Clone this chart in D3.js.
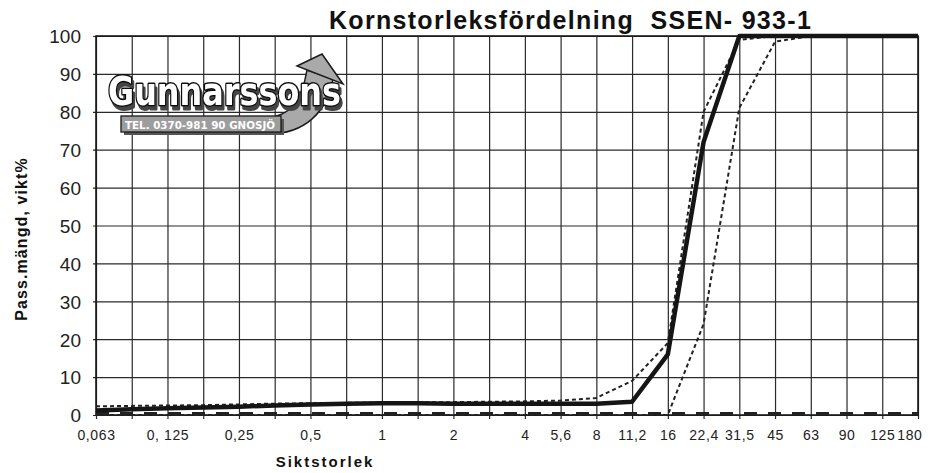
<!DOCTYPE html>
<html>
<head>
<meta charset="utf-8">
<script src="https://cdn.jsdelivr.net/npm/d3@7"></script>
<style>
  html, body { margin: 0; padding: 0; background: #fff; }
  svg { display: block; font-family: Arial, "Liberation Sans", sans-serif; }
</style>
</head>
<body>
<svg id="chart" width="932" height="473"></svg>
<script>
// ---- data ----
const xLabels = ["0,063","","0, 125","","0,25","","0,5","","1","","2","","4","5,6","8","11,2","16","22,4","31,5","45","63","90","125","180"];
const yTicks = [0,10,20,30,40,50,60,70,80,90,100];
const sample     = [1.2,1.5,1.8,2.0,2.2,2.5,2.8,3.0,3.1,3.1,3.0,3.0,3.0,3.0,3.0,3.5,16,72,100,100,100,100,100,100];
const upperLimit = [2.3,2.4,2.5,2.6,2.8,3.0,3.1,3.2,3.3,3.3,3.4,3.5,3.6,3.8,4.5,9,19,80,99,100,100,100,100,100];
const lowerLimit = [0,0,0,0,0,0,0,0,0,0,0,0,0,0,0,0,0,24,81,98.5,100,100,100,100];
const baseLine   = [0.4,0.4,0.4,0.4,0.4,0.4,0.4,0.4,0.4,0.4,0.4,0.4,0.4,0.4,0.4,0.4,0.4,0.4,0.4,0.4,0.4,0.4,0.4,0.4];
const title = "Kornstorleksfördelning  SSEN- 933-1";
const yTitle = "Pass.mängd, vikt%";
const xTitle = "Siktstorlek";

// ---- layout ----
const svg = d3.select("#chart");
const m = {left: 96, right: 918, top: 36, bottom: 415};
const x = d3.scalePoint().domain(d3.range(xLabels.length)).range([m.left, m.right]);
const y = d3.scaleLinear().domain([0, 100]).range([m.bottom, m.top]);
const gridColor = "#2a2a2a";

const defs = svg.append("defs");
const f = defs.append("filter").attr("id", "shadow").attr("x", "-10%").attr("y", "-20%").attr("width", "130%").attr("height", "160%");
f.append("feOffset").attr("in", "SourceAlpha").attr("dx", 2).attr("dy", 2.5).attr("result", "off");
f.append("feFlood").attr("flood-color", "#444").attr("result", "col");
f.append("feComposite").attr("in", "col").attr("in2", "off").attr("operator", "in").attr("result", "sh");
const fm = f.append("feMerge");
fm.append("feMergeNode").attr("in", "sh");
fm.append("feMergeNode").attr("in", "SourceGraphic");

// ---- grid ----
const xAxis = d3.axisBottom(x).tickFormat(i => xLabels[i]).tickSizeInner(-(m.bottom - m.top)).tickSizeOuter(0).tickPadding(0);
const gx = svg.append("g").attr("transform", `translate(0,${m.bottom})`).call(xAxis);
gx.select(".domain").remove();
gx.selectAll(".tick line").attr("y1", 4).attr("stroke", gridColor).attr("stroke-width", 1.2);
gx.selectAll(".tick text")
  .attr("y", 25).attr("dy", 0)
  .attr("font-size", 14).attr("fill", "#222")
  .style("letter-spacing", "0.6px")
  .attr("font-family", "Arial, 'Liberation Sans', sans-serif");
gx.selectAll(".tick text").filter(i => i === xLabels.length - 1).attr("text-anchor", "end").attr("dx", 4);

const yAxis = d3.axisLeft(y).tickValues(yTicks).tickSizeInner(-(m.right - m.left)).tickSizeOuter(0).tickPadding(0);
const gy = svg.append("g").attr("transform", `translate(${m.left},0)`).call(yAxis);
gy.select(".domain").remove();
gy.selectAll(".tick line").attr("x1", -3).attr("stroke", gridColor).attr("stroke-width", 1.2);
gy.selectAll(".tick text")
  .attr("x", -15).attr("dy", "0.36em")
  .attr("font-size", 19).attr("fill", "#222")
  .attr("font-family", "Arial, 'Liberation Sans', sans-serif");

// frame
svg.append("rect")
  .attr("x", m.left).attr("y", m.top)
  .attr("width", m.right - m.left).attr("height", m.bottom - m.top)
  .attr("fill", "none").attr("stroke", "#1a1a1a").attr("stroke-width", 1.6);

// ---- logo ----
const logo = svg.append("g").attr("class", "logo");
logo.append("path")
  .attr("d", "M268,117 C290,117 302,100 307,70 L333,79 C327,112 305,134 268,134 Z")
  .attr("fill", "#a9a9a9").attr("stroke", "#1a1a1a").attr("stroke-width", 1.5);
logo.append("path")
  .attr("d", "M297,66 L322,54 L343,84 Z")
  .attr("fill", "#a9a9a9").attr("stroke", "#1a1a1a").attr("stroke-width", 1.5);
logo.append("rect").attr("x", 124).attr("y", 119).attr("width", 160).attr("height", 16).attr("fill", "#555");
logo.append("rect").attr("x", 121).attr("y", 116).attr("width", 160).attr("height", 16)
  .attr("fill", "#9d9d9d").attr("stroke", "#1a1a1a").attr("stroke-width", 1.3);
logo.append("text").attr("x", 125).attr("y", 128.5)
  .attr("font-size", 11).attr("font-weight", "bold").attr("fill", "#fff")
  .attr("font-family", "'DejaVu Sans', sans-serif")
  .attr("textLength", 150).attr("lengthAdjust", "spacingAndGlyphs")
  .text("TEL. 0370-981 90 GNOSJÖ");

const brand = logo.append("g").attr("transform", "translate(108,105) scale(1,1.4)");
brand.append("text").attr("x", 0).attr("y", 0)
  .attr("font-size", 28).attr("font-weight", "bold")
  .attr("font-family", "'DejaVu Sans', sans-serif")
  .attr("textLength", 233).attr("lengthAdjust", "spacingAndGlyphs")
  .attr("fill", "#fff").attr("stroke", "#111").attr("stroke-width", 2.2)
  .attr("stroke-linejoin", "round")
  .attr("filter", "url(#shadow)")
  .style("paint-order", "stroke")
  .text("Gunnarssons");

// ---- lines ----
const line = d3.line().x((d, i) => x(i)).y(d => y(d));
svg.append("path").datum(baseLine).attr("d", line)
  .attr("fill", "none").attr("stroke", "#222").attr("stroke-width", 3)
  .attr("stroke-dasharray", "13,11");
svg.append("path").datum(lowerLimit).attr("d", line)
  .attr("fill", "none").attr("stroke", "#222").attr("stroke-width", 2)
  .attr("stroke-dasharray", "4,3");
svg.append("path").datum(upperLimit).attr("d", line)
  .attr("fill", "none").attr("stroke", "#222").attr("stroke-width", 2)
  .attr("stroke-dasharray", "4,3");
svg.append("path").datum(sample).attr("d", line)
  .attr("fill", "none").attr("stroke", "#151515").attr("stroke-width", 4.5)
  .attr("stroke-linejoin", "round");

// ---- titles ----
svg.append("text").attr("x", 329).attr("y", 29)
  .attr("font-size", 25).attr("font-weight", "bold").attr("fill", "#111")
  .style("letter-spacing", "1.3px")
  .style("white-space", "pre")
  .text(title);
svg.append("text")
  .attr("transform", "translate(27,239) rotate(-90)")
  .attr("text-anchor", "middle")
  .attr("font-size", 16).attr("font-weight", "bold").attr("fill", "#111")
  .style("letter-spacing", "1.1px")
  .text(yTitle);
svg.append("text").attr("x", 325).attr("y", 467)
  .attr("text-anchor", "middle")
  .attr("font-size", 15).attr("font-weight", "bold").attr("fill", "#111")
  .style("letter-spacing", "2px")
  .text(xTitle);
</script>
</body>
</html>
